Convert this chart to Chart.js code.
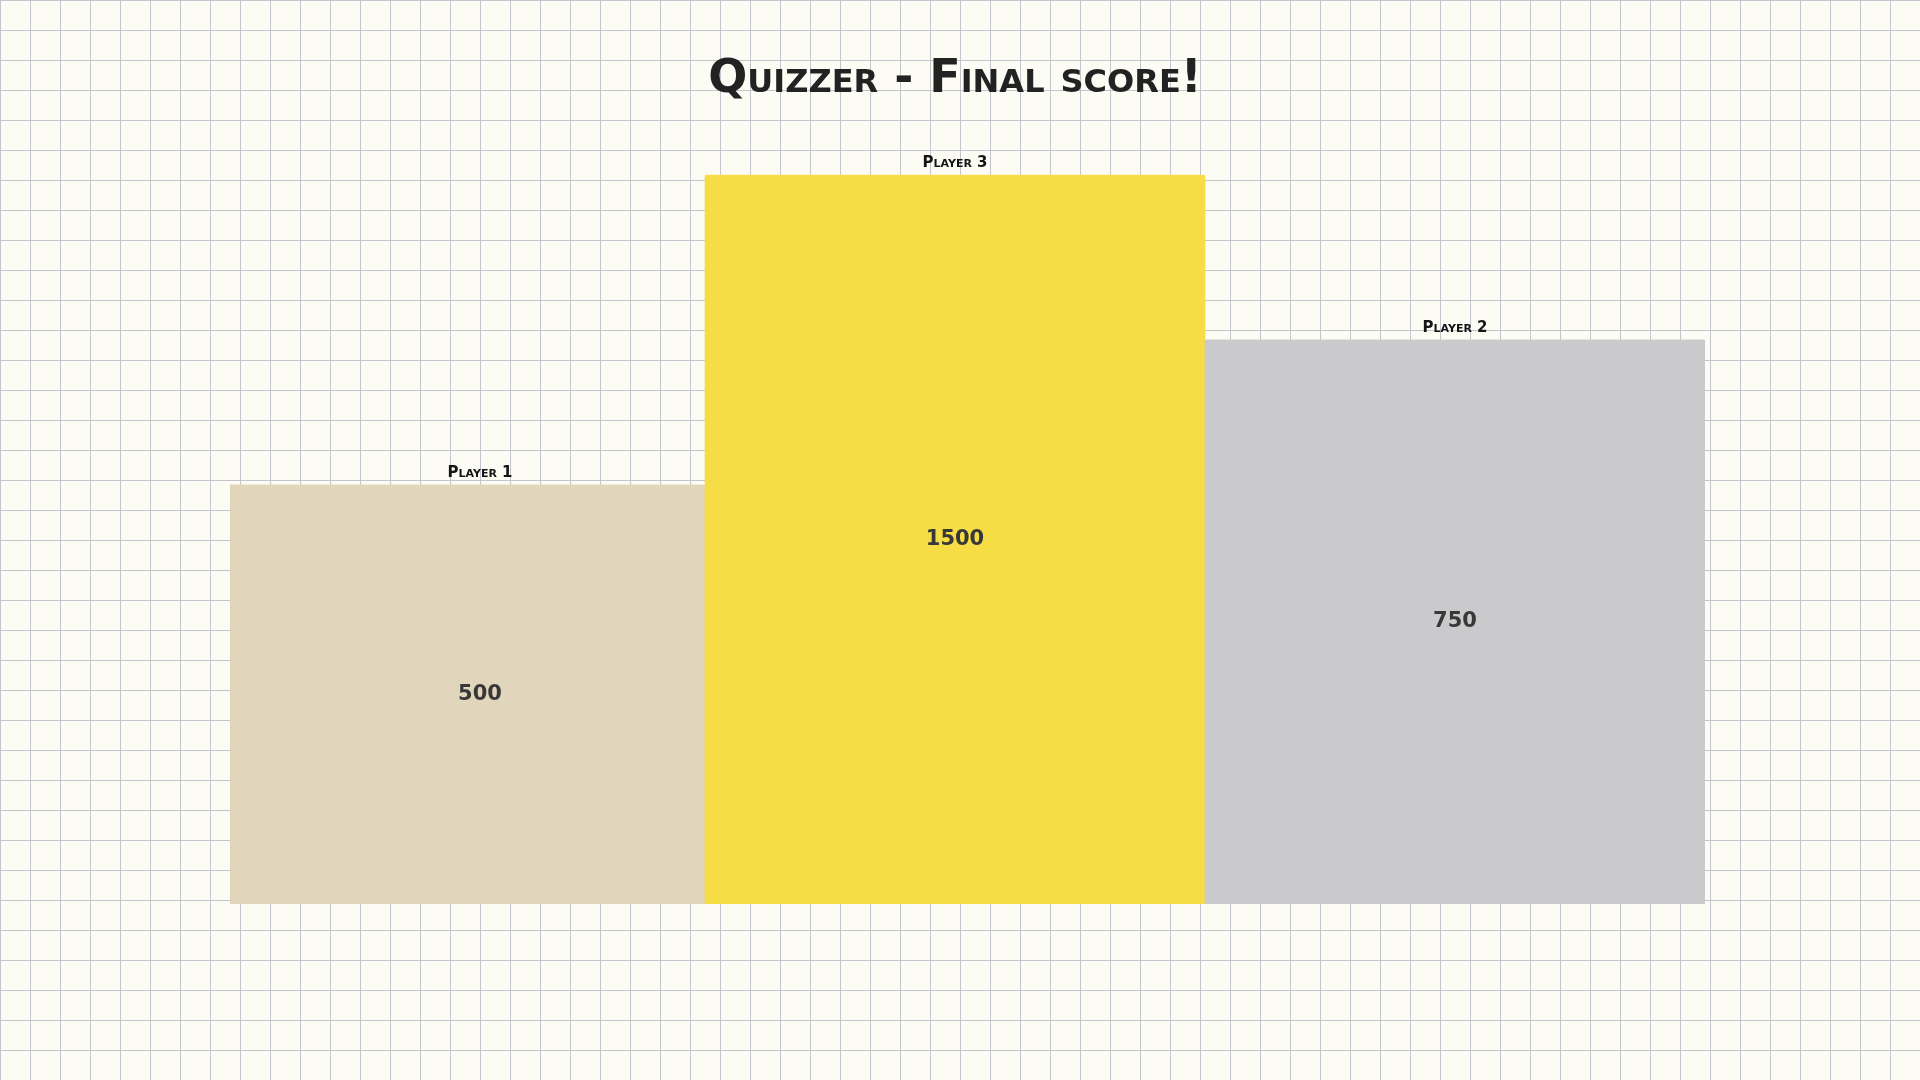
<!DOCTYPE html>
<html>
<head>
<meta charset="utf-8">
<title>Quizzer - Final score!</title>
<script src="https://cdn.jsdelivr.net/npm/chart.js@4/dist/chart.umd.min.js"></script>
<style>
  html, body {
    margin: 0;
    padding: 0;
    width: 1920px;
    height: 1080px;
    overflow: hidden;
  }
  body {
    background-color: #fcfcf5;
    background-image:
      linear-gradient(to right, #c4c4cc 1px, transparent 1px),
      linear-gradient(to bottom, #c4c4cc 1px, transparent 1px);
    background-size: 30px 30px;
  }
  #podium {
    position: absolute;
    left: 0;
    top: 0;
  }
</style>
</head>
<body>
<canvas id="podium" width="1920" height="1080"></canvas>
<script>
const players = ['Player 1', 'Player 3', 'Player 2']
const scores = [500, 1500, 750]
// bar height, as % of the winner's bar
const podiumHeights = [57.5, 100, 77.4]
const barColors = ['#e1d5bc', '#f6dc45', '#cacacc']

const fontFamily = '"DejaVu Sans", "Liberation Sans", sans-serif'
// the first bar is cut on its left side in the original
const clipLeft = 25

// writes the player name above each bar and the score in the middle
const podiumLabels = {
  id: 'podiumLabels',
  afterDatasetsDraw(chart) {
    const ctx = chart.ctx
    const meta = chart.getDatasetMeta(0)
    const area = chart.chartArea
    ctx.save()
    ctx.textAlign = 'center'
    ctx.textBaseline = 'middle'
    meta.data.forEach((bar, i) => {
      const x = Math.max(bar.x, area.left + clipLeft + bar.width / 2)

      ctx.fillStyle = '#151515'
      ctx.font = 'small-caps bold 15px ' + fontFamily
      ctx.fillText(players[i], x, bar.y - 12)

      ctx.fillStyle = '#383838'
      ctx.font = 'bold 21px ' + fontFamily
      ctx.fillText(scores[i], x, (bar.y + bar.base) / 2)
    })
    ctx.restore()
  }
}

const ctx = document.getElementById('podium').getContext('2d')
const chart = new Chart(ctx, {
  type: 'bar',
  data: {
    labels: players,
    datasets: [{
      label: 'Final score',
      data: podiumHeights,
      backgroundColor: barColors,
      borderWidth: 0,
      borderRadius: 2,
      borderSkipped: false,
      barPercentage: 1,
      categoryPercentage: 1,
      clip: { left: -clipLeft, top: 5, right: 0, bottom: 0 }
    }]
  },
  options: {
    responsive: false,
    animation: false,
    layout: {
      padding: { left: 205, right: 215, top: 52, bottom: 176 }
    },
    scales: {
      x: { display: false },
      y: { display: false, min: 0, max: 100 }
    },
    plugins: {
      legend: { display: false },
      tooltip: { enabled: false },
      title: {
        display: true,
        text: 'Quizzer - Final score!',
        color: '#222222',
        // chart.js rejects small-caps as a style, so it rides along with the weight
        font: { family: fontFamily, size: 46, weight: 'small-caps bold' },
        padding: { top: 0, bottom: 68 }
      }
    }
  },
  plugins: [podiumLabels]
})
</script>
</body>
</html>
